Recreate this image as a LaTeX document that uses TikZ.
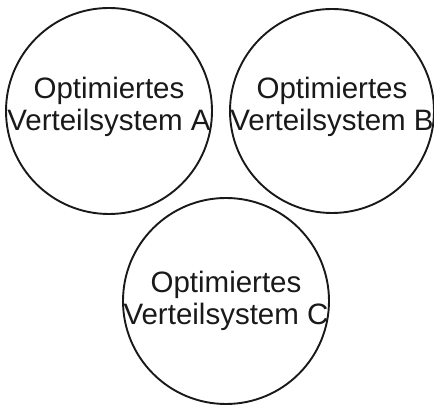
\documentclass[tikz,border=0pt]{standalone}
\usepackage{fontspec}
\setmainfont{Liberation Sans}
\begin{document}
\begin{tikzpicture}[x=1pt,y=1pt,
  ring/.style={draw=black!90, line width=1.9pt, circle, inner sep=0pt, minimum size=#1},
  lbl/.style={align=center, inner sep=0pt, font=\fontsize{29.5}{32}\selectfont, text=black!90}]
\useasboundingbox (0,0) rectangle (434,406);
\node[ring=206pt] (a) at (109,295) {};
\node[ring=204pt] (b) at (332,295) {};
\node[ring=206pt] (c) at (226,105) {};
\node[lbl] (ta) at ([yshift=4pt]a.center) {Optimiertes\\Verteilsystem A};
\node[lbl] (tb) at ([yshift=4pt]b.center) {Optimiertes\\Verteilsystem B};
\node[lbl] (tc) at ([yshift=0pt]c.center) {Optimiertes\\Verteilsystem C};
\end{tikzpicture}
\end{document}
